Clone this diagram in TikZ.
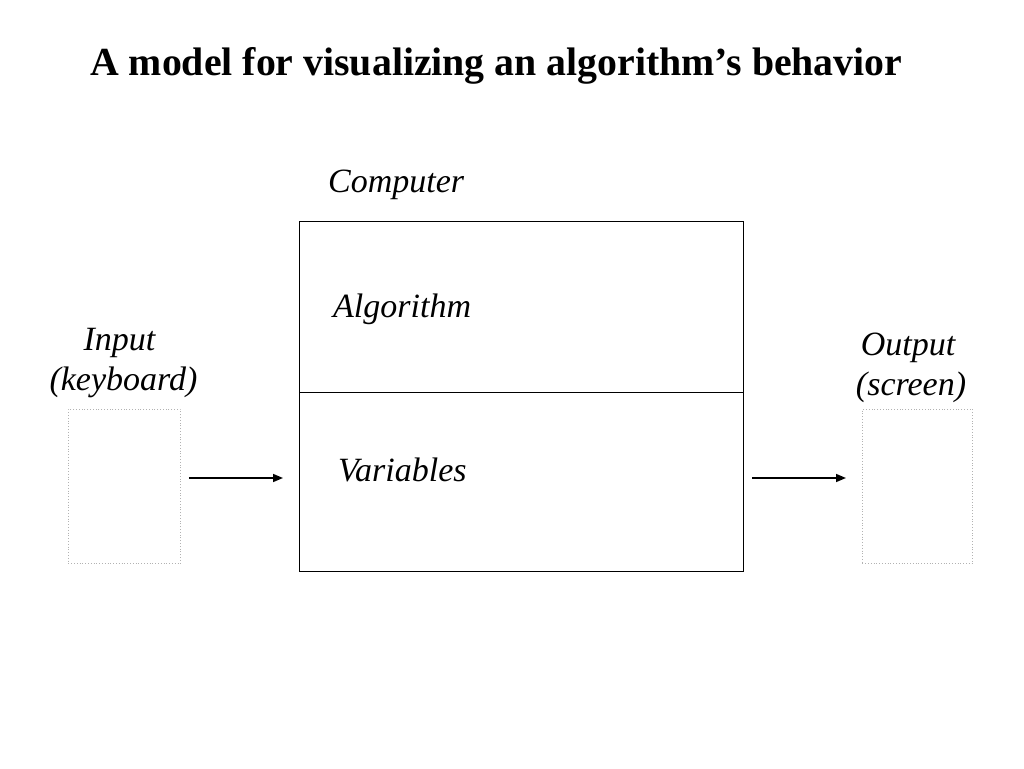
\documentclass[tikz,border=0pt]{standalone}
\usepackage{fontspec}
\setmainfont{Liberation Serif}
\usetikzlibrary{arrows.meta}
\begin{document}
\begin{tikzpicture}[x=1pt,y=-1pt,
  lbl/.style={font=\fontsize{34}{38}\selectfont\itshape, anchor=base west, inner sep=0},
  part/.style={draw, line width=1.2pt, minimum width=444pt, inner sep=0, anchor=north west},
  dev/.style={draw=gray!60, dotted, line width=0.8pt, minimum width=112pt, minimum height=154pt, inner sep=0, anchor=north west},
  arr/.style={line width=1.6pt, -{Triangle[length=10pt,width=8pt]}}]
\useasboundingbox (0,0) rectangle (1024,768);
\fill[white] (0,0) rectangle (1024,768);
\node[font=\fontsize{39.8}{44}\selectfont\bfseries, anchor=base west, inner sep=0] (title) at (90,75) {A model for visualizing an algorithm’s behavior};
\node[lbl] (comp) at (328,192) {Computer};
\node[part, minimum height=171pt] (alg) at (299,221) {};
\node[part, minimum height=179pt] (vars) at (299,392) {};
\node[lbl] (algt) at (333,317) {Algorithm};
\node[lbl] (vart) at (338,481) {Variables};
\node[dev] (inbox) at (68,409) {};
\node[dev, minimum width=110pt] (outbox) at (862,409) {};
\node[lbl, anchor=base] (in1) at (119.5,350) {Input};
\node[lbl, anchor=base] (in2) at (123.5,390) {(keyboard)};
\node[lbl, anchor=base] (out1) at (908,355) {Output};
\node[lbl, anchor=base] (out2) at (911,395) {(screen)};
\coordinate (ay) at (0,478);
\draw[arr, shorten <=8pt, shorten >=16pt] (inbox.east |- ay) -- (vars.west |- ay);
\draw[arr, shorten <=8pt, shorten >=16pt] (vars.east |- ay) -- (outbox.west |- ay);
\end{tikzpicture}
\end{document}
